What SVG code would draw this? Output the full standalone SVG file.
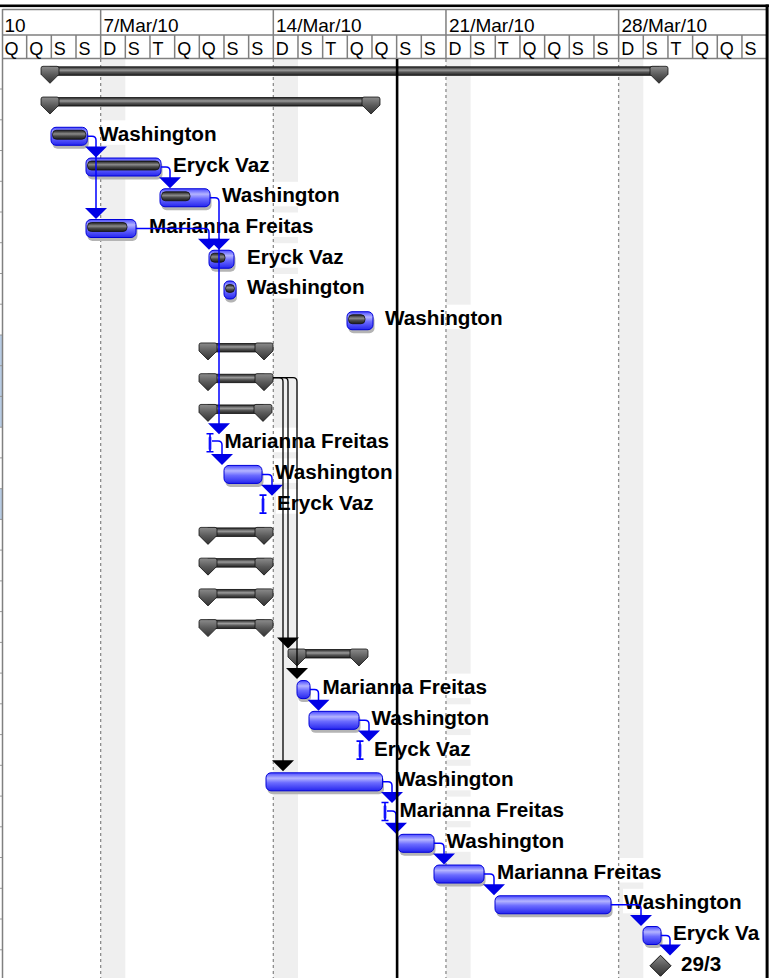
<svg xmlns="http://www.w3.org/2000/svg" width="779" height="978" viewBox="0 0 779 978">
<style>
.hd{font-family:"Liberation Sans",Arial,sans-serif;font-size:18px;fill:#000}
.hd1{font-family:"Liberation Sans",Arial,sans-serif;font-size:19px;fill:#000}
.lbl{font-family:"Liberation Sans",Arial,sans-serif;font-size:20.7px;font-weight:bold;fill:#000}
.grid{stroke:#808080;stroke-width:1.5;fill:none}
.dash{stroke:#8c8c8c;stroke-width:1.3;stroke-dasharray:3 3;fill:none}
.band{fill:#efefef}
.lbg{fill:#fff}
.bar{fill:url(#gBlue);stroke:#0000d8;stroke-width:1}
.shd{fill:#b4b4b4}
.prg{fill:url(#gProg);stroke:#111;stroke-width:0.8}
.sbar{fill:url(#gSum);stroke:#111;stroke-width:0.8}
.cap{fill:url(#gCap);stroke:#111;stroke-width:0.8}
.cb{stroke:#0000ff;stroke-width:1.5;fill:none}
.ck{stroke:#000;stroke-width:1.3;fill:none}
.ab{fill:#0000e6}
.ak{fill:#000}
.ib{stroke:#0000ff;stroke-width:1.6;fill:none}
</style>
<defs>
<linearGradient id="gBlue" x1="0" y1="0" x2="0" y2="1">
<stop offset="0" stop-color="#4a4aff"/><stop offset="0.3" stop-color="#b4b4ff"/><stop offset="0.55" stop-color="#6c6cff"/><stop offset="1" stop-color="#2626ee"/>
</linearGradient>
<linearGradient id="gProg" x1="0" y1="0" x2="0" y2="1">
<stop offset="0" stop-color="#1c1c1c"/><stop offset="0.4" stop-color="#8a8a8a"/><stop offset="0.65" stop-color="#4a4a4a"/><stop offset="1" stop-color="#1c1c1c"/>
</linearGradient>
<linearGradient id="gSum" x1="0" y1="0" x2="0" y2="1">
<stop offset="0" stop-color="#222"/><stop offset="0.4" stop-color="#9a9a9a"/><stop offset="0.65" stop-color="#555"/><stop offset="1" stop-color="#222"/>
</linearGradient>
<linearGradient id="gCap" x1="0" y1="0" x2="0" y2="1">
<stop offset="0" stop-color="#8c8c8c"/><stop offset="0.5" stop-color="#5a5a5a"/><stop offset="1" stop-color="#333"/>
</linearGradient>
<path id="cap" d="M2,0 H16 Q18,0 18,2 V8 L9,17 L0,8 V2 Q0,0 2,0 Z"/>
<path id="arr" d="M-11,-11 H11 L0,0 Z"/>
<g id="ibeam"><rect x="-1.5" y="9" width="3" height="14" rx="1.5" fill="#5a5aff"/><path class="ib" d="M-3.5,6.5 H3.5 M0,6.5 V24.5 M-3.5,24.5 H3.5"/></g>
</defs>

<rect x="0" y="0" width="779" height="978" fill="#fff"/>

<!-- left edge remnants -->
<g id="left-edge">
<rect x="0" y="335" width="2" height="92" fill="#b8cce4"/>
<rect x="0" y="489" width="2" height="31" fill="#b8cce4"/>
<path stroke="#9a9a9a" stroke-width="1" d="M0,89 H2 M0,119.8 H2 M0,150.5 H2 M0,181.3 H2 M0,212 H2 M0,242.7 H2 M0,273.5 H2 M0,304.2 H2 M0,335 H2 M0,365.7 H2 M0,396.4 H2 M0,427.2 H2 M0,457.9 H2 M0,488.7 H2 M0,519.4 H2 M0,550.1 H2 M0,580.9 H2 M0,611.6 H2 M0,642.4 H2 M0,673.1 H2 M0,703.8 H2 M0,734.6 H2 M0,765.3 H2 M0,796.1 H2 M0,826.8 H2 M0,857.5 H2 M0,888.3 H2 M0,919 H2 M0,949.8 H2"/>
</g>

<!-- weekend bands -->
<g id="bands">
<rect class="band" x="100.66" y="59" width="24.67" height="919"/>
<rect class="band" x="273.32" y="59" width="24.67" height="919"/>
<rect class="band" x="445.97" y="59" width="24.67" height="919"/>
<rect class="band" x="618.63" y="59" width="24.67" height="919"/>
</g>

<!-- label backgrounds -->
<g id="label-bg">
<rect class="lbg" x="98" y="120.3" width="121" height="24.5"/>
<rect class="lbg" x="172" y="151" width="100" height="24.5"/>
<rect class="lbg" x="221" y="181.8" width="121" height="24.5"/>
<rect class="lbg" x="148" y="212.5" width="167" height="24.5"/>
<rect class="lbg" x="246" y="243.2" width="100" height="24.5"/>
<rect class="lbg" x="246" y="274" width="121" height="24.5"/>
<rect class="lbg" x="384" y="304.7" width="121" height="24.5"/>
<rect class="lbg" x="223.5" y="427.7" width="167" height="24.5"/>
<rect class="lbg" x="274" y="458.4" width="121" height="24.5"/>
<rect class="lbg" x="276" y="489.2" width="100" height="24.5"/>
<rect class="lbg" x="321.5" y="673.6" width="167" height="24.5"/>
<rect class="lbg" x="370.5" y="704.3" width="121" height="24.5"/>
<rect class="lbg" x="373" y="735.1" width="100" height="24.5"/>
<rect class="lbg" x="395" y="765.8" width="121" height="24.5"/>
<rect class="lbg" x="398.5" y="796.6" width="167" height="24.5"/>
<rect class="lbg" x="445.5" y="827.3" width="121" height="24.5"/>
<rect class="lbg" x="496" y="858" width="167" height="24.5"/>
<rect class="lbg" x="623" y="888.8" width="121" height="24.5"/>
<rect class="lbg" x="672" y="919.5" width="93" height="24.5"/>
<rect class="lbg" x="680" y="950.3" width="43" height="24.5"/>
</g>

<!-- week dashed lines -->
<g id="week-lines">
<line class="dash" x1="100.66" y1="59" x2="100.66" y2="978"/>
<line class="dash" x1="273.32" y1="59" x2="273.32" y2="978"/>
<line class="dash" x1="445.97" y1="59" x2="445.97" y2="978"/>
<line class="dash" x1="618.63" y1="59" x2="618.63" y2="978"/>
</g>

<!-- timescale header -->
<g id="header">
<rect x="0" y="4.5" width="769" height="2.6" fill="#000"/>
<path class="grid" d="M2.5,9.5 H766 M2.5,35 H766 M2,58.5 H766 M2.5,9 V978"/>
<path class="grid" d="M100.66,9.5 V58.5 M273.32,9.5 V58.5 M445.97,9.5 V58.5 M618.63,9.5 V58.5"/>
<path class="grid" d="M26.67,35 V58.5 M51.33,35 V58.5 M76,35 V58.5 M125.33,35 V58.5 M149.99,35 V58.5 M174.66,35 V58.5 M199.32,35 V58.5 M223.99,35 V58.5 M248.65,35 V58.5 M297.98,35 V58.5 M322.65,35 V58.5 M347.31,35 V58.5 M371.98,35 V58.5 M396.64,35 V58.5 M421.31,35 V58.5 M470.64,35 V58.5 M495.3,35 V58.5 M519.97,35 V58.5 M544.63,35 V58.5 M569.3,35 V58.5 M593.96,35 V58.5 M643.29,35 V58.5 M667.96,35 V58.5 M692.62,35 V58.5 M717.29,35 V58.5 M741.95,35 V58.5"/>
<text class="hd1" x="4.5" y="32">10</text>
<text class="hd1" x="103.5" y="32">7/Mar/10</text>
<text class="hd1" x="276" y="32">14/Mar/10</text>
<text class="hd1" x="449" y="32">21/Mar/10</text>
<text class="hd1" x="621.5" y="32">28/Mar/10</text>
<text class="hd" y="55"><tspan x="4.5">Q</tspan><tspan x="29.17">Q</tspan><tspan x="53.83">S</tspan><tspan x="78.5">S</tspan><tspan x="103.16">D</tspan><tspan x="127.83">S</tspan><tspan x="152.49">T</tspan><tspan x="177.16">Q</tspan><tspan x="201.82">Q</tspan><tspan x="226.49">S</tspan><tspan x="251.15">S</tspan><tspan x="275.82">D</tspan><tspan x="300.48">S</tspan><tspan x="325.15">T</tspan><tspan x="349.81">Q</tspan><tspan x="374.48">Q</tspan><tspan x="399.14">S</tspan><tspan x="423.81">S</tspan><tspan x="448.47">D</tspan><tspan x="473.14">S</tspan><tspan x="497.8">T</tspan><tspan x="522.47">Q</tspan><tspan x="547.13">Q</tspan><tspan x="571.8">S</tspan><tspan x="596.46">S</tspan><tspan x="621.13">D</tspan><tspan x="645.79">S</tspan><tspan x="670.46">T</tspan><tspan x="695.12">Q</tspan><tspan x="719.79">Q</tspan><tspan x="744.45">S</tspan></text>
<rect x="765.6" y="4.5" width="3" height="973.5" fill="#000"/>
</g>

<!-- summary rows -->
<g id="sum0" transform="translate(41,58.3)"><rect class="sbar" x="9" y="8.5" width="609" height="8.5"/><use href="#cap" class="cap" x="0" y="8"/><use href="#cap" class="cap" x="609" y="8"/></g>
<g id="sum1" transform="translate(41,89.04)"><rect class="sbar" x="9" y="8.5" width="321" height="8.5"/><use href="#cap" class="cap" x="0" y="8"/><use href="#cap" class="cap" x="321" y="8"/></g>
<g id="sum9" transform="translate(199,334.96)"><rect class="sbar" x="9" y="8.5" width="56" height="8.5"/><use href="#cap" class="cap" x="0" y="8"/><use href="#cap" class="cap" x="56" y="8"/></g>
<g id="sum10" transform="translate(199,365.7)"><rect class="sbar" x="9" y="8.5" width="56" height="8.5"/><use href="#cap" class="cap" x="0" y="8"/><use href="#cap" class="cap" x="56" y="8"/></g>
<g id="sum11" transform="translate(199,396.44)"><rect class="sbar" x="9" y="8.5" width="55" height="8.5"/><use href="#cap" class="cap" x="0" y="8"/><use href="#cap" class="cap" x="55" y="8"/></g>
<g id="sum15" transform="translate(199,519.4)"><rect class="sbar" x="9" y="8.5" width="56" height="8.5"/><use href="#cap" class="cap" x="0" y="8"/><use href="#cap" class="cap" x="56" y="8"/></g>
<g id="sum16" transform="translate(199,550.14)"><rect class="sbar" x="9" y="8.5" width="56" height="8.5"/><use href="#cap" class="cap" x="0" y="8"/><use href="#cap" class="cap" x="56" y="8"/></g>
<g id="sum17" transform="translate(199,580.88)"><rect class="sbar" x="9" y="8.5" width="56" height="8.5"/><use href="#cap" class="cap" x="0" y="8"/><use href="#cap" class="cap" x="56" y="8"/></g>
<g id="sum18" transform="translate(199,611.62)"><rect class="sbar" x="9" y="8.5" width="56" height="8.5"/><use href="#cap" class="cap" x="0" y="8"/><use href="#cap" class="cap" x="56" y="8"/></g>
<g id="sum19" transform="translate(288,641)"><rect class="sbar" x="9" y="8.5" width="62" height="8.5"/><use href="#cap" class="cap" x="0" y="8"/><use href="#cap" class="cap" x="62" y="8"/></g>

<!-- task rows -->
<g id="t2" transform="translate(51,119.78)"><rect class="shd" x="1.5" y="11" width="36.3" height="18" rx="5"/><rect class="bar" x="0" y="7.5" width="36.3" height="18" rx="5"/><rect class="prg" x="1.5" y="10.5" width="33.3" height="9" rx="4"/><text class="lbl" x="48" y="21">Washington</text></g>
<g id="t3" transform="translate(86,150.52)"><rect class="shd" x="1.5" y="11" width="75" height="18" rx="5"/><rect class="bar" x="0" y="7.5" width="75" height="18" rx="5"/><rect class="prg" x="1.5" y="10.5" width="72" height="9" rx="4"/><text class="lbl" x="87" y="21">Eryck Vaz</text></g>
<g id="t4" transform="translate(160,181.26)"><rect class="shd" x="1.5" y="11" width="50" height="18" rx="5"/><rect class="bar" x="0" y="7.5" width="50" height="18" rx="5"/><rect class="prg" x="1.5" y="10.5" width="28.5" height="9" rx="4"/><text class="lbl" x="62" y="21">Washington</text></g>
<g id="t5" transform="translate(86,212)"><rect class="shd" x="1.5" y="11" width="50" height="18" rx="5"/><rect class="bar" x="0" y="7.5" width="50" height="18" rx="5"/><rect class="prg" x="1.5" y="10.5" width="39.5" height="9" rx="4"/><text class="lbl" x="63" y="21">Marianna Freitas</text></g>
<g id="t6" transform="translate(209,242.74)"><rect class="shd" x="1.5" y="11" width="25" height="18" rx="5"/><rect class="bar" x="0" y="7.5" width="25" height="18" rx="5"/><rect class="prg" x="1.5" y="10.5" width="14.5" height="9" rx="4"/><text class="lbl" x="38" y="21">Eryck Vaz</text></g>
<g id="t7" transform="translate(224,273.48)"><rect class="shd" x="1" y="11" width="12" height="18" rx="5"/><rect class="bar" x="0" y="7.5" width="12" height="18" rx="5"/><rect class="prg" x="1.5" y="11" width="9" height="8" rx="4"/><text class="lbl" x="23" y="21">Washington</text></g>
<g id="t8" transform="translate(347,304.22)"><rect class="shd" x="1.5" y="11" width="26" height="18" rx="5"/><rect class="bar" x="0" y="7.5" width="26" height="18" rx="5"/><rect class="prg" x="1.5" y="10.5" width="16.5" height="9" rx="4"/><text class="lbl" x="38" y="21">Washington</text></g>
<g id="t12" transform="translate(210,427.18)"><use href="#ibeam"/><text class="lbl" x="14.5" y="21">Marianna Freitas</text></g>
<g id="t13" transform="translate(224,457.92)"><rect class="shd" x="1.5" y="11" width="38" height="18" rx="5"/><rect class="bar" x="0" y="7.5" width="38" height="18" rx="5"/><text class="lbl" x="51" y="21">Washington</text></g>
<g id="t14" transform="translate(263,488.66)"><use href="#ibeam"/><text class="lbl" x="14" y="21">Eryck Vaz</text></g>
<g id="t20" transform="translate(297,673.1)"><rect class="shd" x="1" y="11" width="13" height="18" rx="5"/><rect class="bar" x="0" y="7.5" width="13" height="18" rx="5"/><text class="lbl" x="25.5" y="21">Marianna Freitas</text></g>
<g id="t21" transform="translate(309,703.84)"><rect class="shd" x="1.5" y="11" width="50" height="18" rx="5"/><rect class="bar" x="0" y="7.5" width="50" height="18" rx="5"/><text class="lbl" x="62.5" y="21">Washington</text></g>
<g id="t22" transform="translate(360,734.58)"><use href="#ibeam"/><text class="lbl" x="14" y="21">Eryck Vaz</text></g>
<g id="t23" transform="translate(266,765.32)"><rect class="shd" x="1.5" y="11" width="116.5" height="18" rx="5"/><rect class="bar" x="0" y="7.5" width="116.5" height="18" rx="5"/><text class="lbl" x="130" y="21">Washington</text></g>
<g id="t24" transform="translate(385,796.06)"><use href="#ibeam"/><text class="lbl" x="14.5" y="21">Marianna Freitas</text></g>
<g id="t25" transform="translate(398,826.8)"><rect class="shd" x="1.5" y="11" width="36" height="18" rx="5"/><rect class="bar" x="0" y="7.5" width="36" height="18" rx="5"/><text class="lbl" x="48.5" y="21">Washington</text></g>
<g id="t26" transform="translate(434,857.54)"><rect class="shd" x="1.5" y="11" width="50" height="18" rx="5"/><rect class="bar" x="0" y="7.5" width="50" height="18" rx="5"/><text class="lbl" x="63" y="21">Marianna Freitas</text></g>
<g id="t27" transform="translate(495,888.28)"><rect class="shd" x="1.5" y="11" width="116" height="18" rx="5"/><rect class="bar" x="0" y="7.5" width="116" height="18" rx="5"/><text class="lbl" x="129" y="21">Washington</text></g>
<g id="t28" transform="translate(643,919.02)"><rect class="shd" x="1.5" y="11" width="18" height="18" rx="5"/><rect class="bar" x="0" y="7.5" width="18" height="18" rx="5"/><text class="lbl" x="30" y="21">Eryck Va</text></g>
<g id="m29" transform="translate(660.5,949.76)"><path d="M0,5.5 L10.5,16 L0,26.5 L-10.5,16 Z" fill="url(#gCap)" stroke="#111" stroke-width="1"/><text class="lbl" x="20.5" y="21">29/3</text></g>

<!-- connectors -->
<g id="connectors">
<path class="cb" d="M87.3,136.3 H92 Q96,136.3 96,140.3 V210"/>
<use href="#arr" class="ab" x="96" y="157.5"/>
<use href="#arr" class="ab" x="96" y="219"/>
<path class="cb" d="M161,167 H166 Q170,167 170,171 V179"/>
<use href="#arr" class="ab" x="170" y="188.3"/>
<path class="cb" d="M210,197.8 H215 Q219,197.8 219,201.8 V425"/>
<use href="#arr" class="ab" x="219" y="249.7"/>
<use href="#arr" class="ab" x="219" y="434.2"/>
<path class="cb" d="M136,228.5 H205 Q209,228.5 209,232.5 V240.5"/>
<use href="#arr" class="ab" x="209" y="249.7"/>
<path class="cb" d="M212,441 H218 Q222,441 222,445 V456"/>
<use href="#arr" class="ab" x="222" y="465"/>
<path class="cb" d="M262,474.4 H268 Q272,474.4 272,478.4 V486.5"/>
<use href="#arr" class="ab" x="272" y="495.7"/>
<path class="cb" d="M310,689.6 H314.5 Q318.5,689.6 318.5,693.6 V701.5"/>
<use href="#arr" class="ab" x="318.5" y="710.8"/>
<path class="cb" d="M359,720.3 H365 Q369,720.3 369,724.3 V732.5"/>
<use href="#arr" class="ab" x="369" y="741.6"/>
<path class="cb" d="M382.5,781.8 H388 Q392,781.8 392,785.8 V794"/>
<use href="#arr" class="ab" x="392" y="803"/>
<path class="cb" d="M387,811 H392 Q396,811 396,815 V824.5"/>
<use href="#arr" class="ab" x="396" y="833.8"/>
<path class="cb" d="M434,843.3 H440 Q444,843.3 444,847.3 V855.5"/>
<use href="#arr" class="ab" x="444" y="864.5"/>
<path class="cb" d="M484,874 H490 Q494,874 494,878 V886"/>
<use href="#arr" class="ab" x="494" y="895.3"/>
<path class="cb" d="M611,904.8 H637 Q641,904.8 641,908.8 V917"/>
<use href="#arr" class="ab" x="641" y="926"/>
<path class="cb" d="M661,935.5 H666 Q670,935.5 670,939.5 V946.5"/>
<use href="#arr" class="ab" x="670" y="955.5"/>
<path class="ck" d="M273,377.7 H279 Q283,377.7 283,381.7 V762"/>
<path class="ck" d="M273,377.7 H284 Q288,377.7 288,381.7 V639"/>
<path class="ck" d="M273,377.7 H293 Q297,377.7 297,381.7 V670"/>
<use href="#arr" class="ak" x="288" y="648.5"/>
<use href="#arr" class="ak" x="297" y="679"/>
<use href="#arr" class="ak" x="283" y="771.3"/>
</g>

<!-- status date line -->
<rect id="status-line" x="395.8" y="59" width="2.6" height="919" fill="#000"/>
</svg>
